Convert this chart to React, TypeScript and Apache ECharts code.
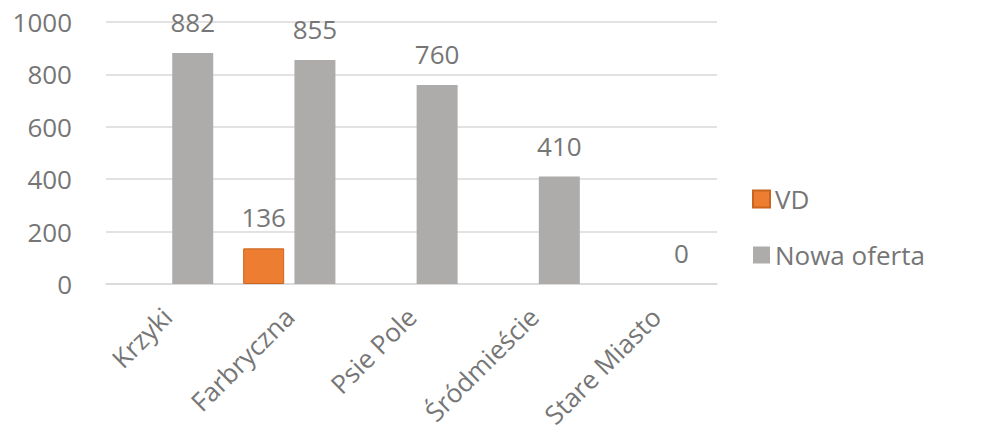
import React, { useEffect, useRef } from "react";
import * as echarts from "echarts";

const categories = ["Krzyki", "Farbryczna", "Psie Pole", "Śródmieście", "Stare Miasto"];
const vdValues: (number | null)[] = [null, 136, null, null, null];
const nowaOfertaValues = [882, 855, 760, 410, 0];
const seriesNames = ["VD", "Nowa oferta"];
const yTicks = { min: 0, max: 1000, interval: 200 };

const FONT = "'Open Sans', 'Noto Sans', sans-serif";
const TEXT = "#767676";

export default function App() {
  const ref = useRef<HTMLDivElement>(null);
  useEffect(() => {
    if (!ref.current) return;
    const chart = echarts.init(ref.current, undefined, { renderer: "svg" });
    chart.setOption({
      animation: false,
      textStyle: { fontFamily: FONT },
      grid: { left: 106, right: 278, top: 22, bottom: 157 },
      legend: {
        orient: "vertical",
        left: 747,
        top: 181,
        itemWidth: 17,
        itemHeight: 17,
        itemGap: 30,
        icon: "rect",
        data: seriesNames,
        textStyle: { color: TEXT, fontSize: 26, fontFamily: FONT },
      },
      xAxis: {
        type: "category",
        data: categories,
        axisLine: { lineStyle: { color: "#d9d9d9", width: 1.5 } },
        axisTick: { show: false },
        axisLabel: { rotate: 45, color: TEXT, fontSize: 26, fontFamily: FONT, margin: 28, interval: 0 },
      },
      yAxis: {
        type: "value",
        min: yTicks.min,
        max: yTicks.max,
        interval: yTicks.interval,
        axisLine: { show: false },
        axisTick: { show: false },
        splitLine: { lineStyle: { color: "#d9d9d9", width: 1.5 } },
        axisLabel: { color: TEXT, fontSize: 26, fontFamily: FONT, margin: 34, formatter: (v: number) => String(v) },
      },
      series: [
        {
          name: seriesNames[0],
          type: "bar",
          data: vdValues,
          barWidth: 41,
          barGap: "25%",
          itemStyle: { color: "#ED7D31", borderColor: "#C9651F", borderWidth: 1 },
          label: { show: true, position: "top", distance: 18, color: TEXT, fontSize: 26, fontFamily: FONT },
        },
        {
          name: seriesNames[1],
          type: "bar",
          data: nowaOfertaValues,
          barWidth: 41,
          barGap: "25%",
          itemStyle: { color: "#AEABAB" },
          label: { show: true, position: "top", distance: 18, color: TEXT, fontSize: 26, fontFamily: FONT },
        },
      ],
    });
    return () => chart.dispose();
  }, []);
  return <div ref={ref} style={{ width: 995, height: 441, position: "absolute", left: 0, top: 0, background: "#fff" }} />;
}
